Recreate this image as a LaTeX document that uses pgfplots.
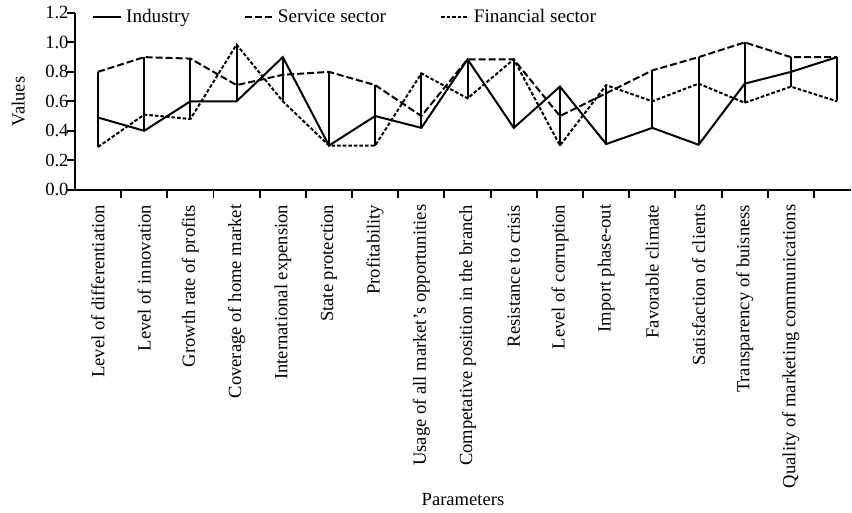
\documentclass[border=0pt]{standalone}
\usepackage{fontspec}
\setmainfont{Liberation Serif}
\usepackage{pgfplots}
\usepackage{pgfplotstable}
\pgfplotsset{compat=1.18}

% one row per parameter: industry, service, financial, low and high ends
\pgfplotstableread{
x  ind   serv  fin   lo    hi
1  0.49  0.80  0.29  0.29  0.80
2  0.40  0.90  0.51  0.40  0.90
3  0.60  0.89  0.48  0.48  0.89
4  0.60  0.71  0.985 0.60  0.985
5  0.90  0.78  0.60  0.60  0.90
6  0.30  0.80  0.30  0.30  0.80
7  0.50  0.71  0.30  0.30  0.71
8  0.42  0.50  0.79  0.42  0.79
9  0.885 0.885 0.62  0.62  0.885
10 0.42  0.885 0.885 0.42  0.885
11 0.70  0.50  0.30  0.30  0.70
12 0.31  0.655 0.71  0.31  0.71
13 0.42  0.81  0.60  0.42  0.81
14 0.305 0.90  0.72  0.305 0.90
15 0.72  1.00  0.59  0.59  1.00
16 0.80  0.90  0.70  0.70  0.90
17 0.90  0.90  0.60  0.60  0.90
}\data

\begin{document}
\begin{tikzpicture}
\begin{axis}[
  scale only axis,
  width=388.5pt, height=88.5pt,
  font=\fontsize{9.3}{11}\selectfont,
  xmin=0.5, xmax=17.3,
  ymin=0, ymax=1.2,
  axis x line*=bottom, axis y line*=left,
  axis line style={line width=1pt},
  tick align=outside,
  major tick length=4pt, minor tick length=4pt,
  tick style={black, line width=1pt},
  major x tick style={draw=none},
  xtick={1,...,16},
  minor xtick={1.5,2.5,...,16.5},
  xticklabels={Level of differentiation, Level of innovation, Growth rate of profits,
    Coverage of home market, International expension, State protection, Profitability,
    Usage of all market's opportunities, Competative position in the branch,
    Resistance to crisis, Level of corruption, Import phase-out, Favorable climate,
    Satisfaction of clients, Transparency of buisness, Quality of marketing communications},
  xticklabel style={rotate=90, anchor=east},
  ytick={0,0.2,...,1.2},
  yticklabel style={inner xsep=0pt, xshift=1pt,
    /pgf/number format/.cd, fixed, fixed zerofill, precision=1},
  /pgf/number format/assume math mode=true,
  xlabel={Parameters}, ylabel={Values},
  xlabel style={yshift=4pt},
  ylabel style={at={(axis description cs:-0.073,0.5)}, anchor=center},
  legend columns=3,
  legend style={draw=none, fill=none, at={(0.014,0.975)}, anchor=west,
    /tikz/every even column/.append style={column sep=25pt},
    font=\fontsize{9.6}{11}\selectfont},
  legend image code/.code={\draw[#1] (0pt,0pt) -- (14pt,0pt);},
]
\coordinate (o) at (axis description cs:0,0);
\addplot[draw=none, no markers, forget plot,
  error bars/.cd, y dir=plus, y explicit, error mark=none,
  error bar style={draw=black, solid, line width=1pt}]
  table[x=x, y=lo, y error expr=\thisrow{hi}-\thisrow{lo}] {\data};
\addplot[black, line width=1pt, mark=none] table[x=x, y=ind] {\data};
\addplot[black, line width=1pt, mark=none, dash pattern=on 3.5pt off 1.5pt] table[x=x, y=serv] {\data};
\addplot[black, line width=1pt, mark=none, dash pattern=on 1.8pt off 1pt] table[x=x, y=fin] {\data};
\legend{Industry, Service sector, Financial sector}
\end{axis}
\path (o) ++(-37.5pt,0pt);
\end{tikzpicture}
\end{document}
